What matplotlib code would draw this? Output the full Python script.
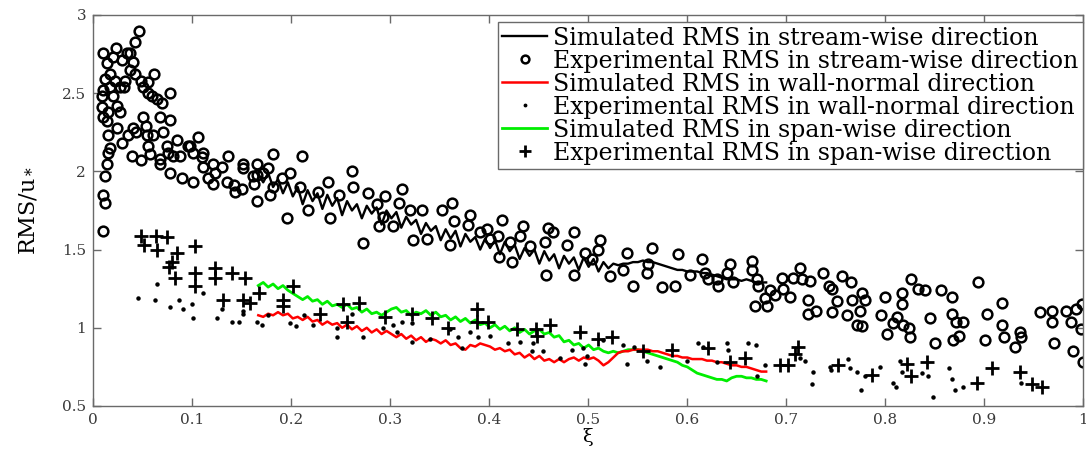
#!/usr/bin/env python3
"""RMS velocity fluctuations (normalised by u*) against xi: simulation vs experiment."""

import numpy as np
import matplotlib
matplotlib.use("Agg")
import matplotlib.pyplot as plt

plt.rcParams["font.family"] = ["DejaVu Serif"]
plt.rcParams["mathtext.fontset"] = "dejavuserif"

# Simulated RMS, stream-wise direction (xi from 0.167 to 0.68, evenly spaced)
rms_stream_sim = [
    1.98, 1.93, 1.99, 1.90, 1.95, 1.86, 1.93, 1.84, 1.90, 1.79,
    1.88, 1.81, 1.86, 1.76, 1.85, 1.78, 1.83, 1.72, 1.81, 1.75,
    1.79, 1.70, 1.78, 1.73, 1.77, 1.66, 1.75, 1.70, 1.74, 1.64,
    1.71, 1.66, 1.69, 1.60, 1.67, 1.62, 1.65, 1.56, 1.63, 1.57,
    1.62, 1.52, 1.60, 1.55, 1.58, 1.50, 1.57, 1.51, 1.56, 1.47,
    1.55, 1.49, 1.53, 1.44, 1.51, 1.46, 1.50, 1.41, 1.49, 1.43,
    1.47, 1.38, 1.46, 1.41, 1.45, 1.37, 1.45, 1.39, 1.44, 1.36,
    1.42, 1.38, 1.41, 1.40, 1.41, 1.41, 1.42, 1.42, 1.43, 1.42,
    1.42, 1.41, 1.40, 1.39, 1.38, 1.37, 1.37, 1.36, 1.36, 1.36,
    1.35, 1.35, 1.34, 1.33, 1.32, 1.31, 1.31, 1.31, 1.30, 1.31,
    1.30, 1.29, 1.29, 1.29,
]

# Simulated RMS, wall-normal direction
rms_normal_sim = [
    1.08, 1.07, 1.09, 1.08, 1.10, 1.08, 1.09, 1.06, 1.07, 1.05,
    1.07, 1.04, 1.05, 1.02, 1.04, 1.02, 1.03, 1.00, 1.02, 0.99,
    1.01, 0.98, 1.00, 0.97, 0.99, 0.96, 0.98, 0.96, 0.94, 0.96,
    0.93, 0.95, 0.92, 0.94, 0.91, 0.93, 0.92, 0.90, 0.92, 0.89,
    0.90, 0.87, 0.86, 0.89, 0.88, 0.90, 0.89, 0.88, 0.86, 0.87,
    0.85, 0.86, 0.83, 0.84, 0.81, 0.83, 0.80, 0.82, 0.79, 0.80,
    0.78, 0.80, 0.78, 0.80, 0.81, 0.79, 0.81, 0.80, 0.81, 0.79,
    0.76, 0.78, 0.81, 0.84, 0.85, 0.85, 0.86, 0.86, 0.86, 0.86,
    0.85, 0.85, 0.84, 0.83, 0.82, 0.82, 0.81, 0.81, 0.80, 0.80,
    0.80, 0.79, 0.79, 0.78, 0.78, 0.77, 0.76, 0.76, 0.75, 0.75,
    0.74, 0.73, 0.72, 0.72,
]

# Simulated RMS, span-wise direction
rms_span_sim = [
    1.27, 1.29, 1.26, 1.28, 1.25, 1.27, 1.24, 1.22, 1.20, 1.18,
    1.20, 1.17, 1.18, 1.15, 1.17, 1.14, 1.15, 1.13, 1.15, 1.12,
    1.13, 1.10, 1.12, 1.09, 1.10, 1.08, 1.10, 1.12, 1.13, 1.10,
    1.11, 1.08, 1.10, 1.09, 1.11, 1.08, 1.10, 1.07, 1.08, 1.05,
    1.07, 1.04, 1.06, 1.03, 1.05, 1.02, 1.03, 1.00, 1.02, 0.99,
    1.01, 0.98, 1.00, 0.97, 0.99, 0.96, 0.98, 0.99, 0.96, 0.97,
    0.94, 0.95, 0.91, 0.92, 0.89, 0.90, 0.87, 0.89, 0.86, 0.87,
    0.85, 0.84, 0.85, 0.84, 0.85, 0.86, 0.86, 0.86, 0.85, 0.84,
    0.83, 0.82, 0.81, 0.80, 0.79, 0.78, 0.76, 0.75, 0.73, 0.71,
    0.70, 0.69, 0.68, 0.67, 0.67, 0.66, 0.68, 0.69, 0.69, 0.68,
    0.68, 0.67, 0.67, 0.66,
]
XI_SIM_START, XI_SIM_END = 0.167, 0.68

# Experimental RMS, stream-wise direction
xi_stream_exp = [
    0.010, 0.014, 0.023, 0.020, 0.029, 0.034, 0.037, 0.047, 0.042, 0.040,
    0.037, 0.042, 0.062, 0.012, 0.017, 0.022, 0.032, 0.049, 0.056, 0.010,
    0.017, 0.027, 0.031, 0.051, 0.056, 0.060, 0.065, 0.070, 0.078, 0.009,
    0.020, 0.009, 0.024, 0.027, 0.015, 0.010, 0.014, 0.051, 0.054, 0.068,
    0.078, 0.015, 0.024, 0.035, 0.040, 0.043, 0.055, 0.061, 0.071, 0.029,
    0.017, 0.015, 0.056, 0.075, 0.085, 0.106, 0.039, 0.049, 0.058, 0.068,
    0.076, 0.081, 0.088, 0.096, 0.101, 0.111, 0.110, 0.121, 0.130, 0.136,
    0.014, 0.068, 0.078, 0.090, 0.101, 0.111, 0.116, 0.123, 0.121, 0.135,
    0.143, 0.152, 0.152, 0.151, 0.166, 0.166, 0.166, 0.177, 0.182, 0.179,
    0.191, 0.199, 0.012, 0.010, 0.012, 0.010, 0.098, 0.142, 0.162, 0.163,
    0.172, 0.182, 0.196, 0.211, 0.209, 0.217, 0.227, 0.239, 0.237, 0.262,
    0.263, 0.249, 0.273, 0.278, 0.287, 0.289, 0.295, 0.303, 0.309, 0.312,
    0.293, 0.320, 0.323, 0.332, 0.337, 0.353, 0.363, 0.361, 0.365, 0.381,
    0.379, 0.391, 0.398, 0.401, 0.409, 0.413, 0.410, 0.423, 0.434, 0.431,
    0.441, 0.457, 0.460, 0.458, 0.421, 0.465, 0.479, 0.486, 0.486, 0.512,
    0.510, 0.497, 0.504, 0.522, 0.539, 0.535, 0.545, 0.561, 0.560, 0.565,
    0.575, 0.591, 0.588, 0.603, 0.615, 0.618, 0.621, 0.630, 0.631, 0.643,
    0.640, 0.646, 0.666, 0.666, 0.671, 0.672, 0.684, 0.689, 0.679, 0.669,
    0.681, 0.696, 0.697, 0.704, 0.707, 0.714, 0.716, 0.724, 0.722, 0.722,
    0.730, 0.737, 0.743, 0.747, 0.752, 0.747, 0.757, 0.766, 0.762, 0.767,
    0.777, 0.780, 0.775, 0.772, 0.777, 0.800, 0.796, 0.802, 0.812, 0.808,
    0.817, 0.817, 0.818, 0.824, 0.825, 0.826, 0.833, 0.840, 0.845, 0.851,
    0.857, 0.868, 0.868, 0.872, 0.879, 0.869, 0.875, 0.894, 0.903, 0.901,
    0.918, 0.918, 0.920, 0.936, 0.937, 0.931, 0.957, 0.969, 0.969, 0.971,
    0.983, 0.993, 0.999, 0.988, 0.998, 0.990, 1.000,
]
rms_stream_exp = [
    2.76, 2.69, 2.79, 2.73, 2.71, 2.76, 2.76, 2.90, 2.83, 2.70,
    2.65, 2.62, 2.62, 2.59, 2.62, 2.58, 2.58, 2.58, 2.57, 2.52,
    2.54, 2.54, 2.54, 2.54, 2.50, 2.48, 2.46, 2.44, 2.50, 2.48,
    2.48, 2.41, 2.42, 2.38, 2.38, 2.35, 2.32, 2.35, 2.29, 2.35,
    2.33, 2.23, 2.28, 2.23, 2.28, 2.25, 2.23, 2.23, 2.25, 2.18,
    2.15, 2.12, 2.16, 2.16, 2.20, 2.22, 2.10, 2.07, 2.11, 2.08,
    2.12, 2.10, 2.10, 2.16, 2.12, 2.12, 2.09, 2.05, 2.03, 2.10,
    2.05, 2.05, 1.99, 1.96, 1.93, 2.03, 1.96, 1.99, 1.92, 1.93,
    1.87, 2.05, 2.02, 1.89, 2.05, 1.98, 1.81, 2.02, 2.11, 1.85,
    1.96, 1.99, 1.97, 1.85, 1.80, 1.62, 2.16, 1.91, 1.97, 1.92,
    1.99, 1.90, 1.70, 2.10, 1.90, 1.75, 1.87, 1.70, 1.93, 2.00,
    1.90, 1.85, 1.54, 1.86, 1.79, 1.65, 1.84, 1.65, 1.80, 1.89,
    1.71, 1.75, 1.56, 1.75, 1.57, 1.75, 1.80, 1.53, 1.68, 1.72,
    1.66, 1.61, 1.63, 1.57, 1.59, 1.69, 1.45, 1.42, 1.65, 1.59,
    1.52, 1.55, 1.64, 1.34, 1.55, 1.61, 1.53, 1.61, 1.34, 1.56,
    1.50, 1.48, 1.44, 1.33, 1.48, 1.37, 1.27, 1.41, 1.35, 1.51,
    1.26, 1.47, 1.27, 1.34, 1.44, 1.35, 1.31, 1.31, 1.27, 1.41,
    1.35, 1.29, 1.43, 1.37, 1.31, 1.27, 1.24, 1.21, 1.19, 1.14,
    1.14, 1.32, 1.25, 1.20, 1.32, 1.38, 1.31, 1.30, 1.18, 1.09,
    1.11, 1.35, 1.27, 1.25, 1.17, 1.10, 1.33, 1.29, 1.08, 1.18,
    1.22, 1.18, 1.11, 1.02, 1.01, 1.20, 1.08, 0.96, 1.07, 1.03,
    1.22, 1.15, 1.02, 1.00, 0.94, 1.31, 1.25, 1.24, 1.06, 0.90,
    1.24, 1.20, 1.09, 1.04, 1.04, 0.92, 0.95, 1.29, 1.09, 0.92,
    1.16, 1.02, 0.94, 0.97, 0.94, 0.88, 1.10, 1.11, 1.04, 0.90,
    1.11, 1.12, 1.15, 1.04, 0.99, 0.85, 0.78,
]

# Experimental RMS, wall-normal direction
xi_normal_exp = [
    0.045, 0.063, 0.065, 0.078, 0.087, 0.091, 0.100, 0.101, 0.111, 0.125,
    0.130, 0.140, 0.148, 0.152, 0.152, 0.166, 0.171, 0.177, 0.199, 0.205,
    0.213, 0.222, 0.246, 0.247, 0.262, 0.273, 0.293, 0.303, 0.312, 0.322,
    0.307, 0.322, 0.340, 0.361, 0.369, 0.373, 0.381, 0.389, 0.401, 0.419,
    0.431, 0.444, 0.443, 0.455, 0.472, 0.484, 0.495, 0.499, 0.515, 0.535,
    0.539, 0.547, 0.497, 0.560, 0.573, 0.611, 0.616, 0.600, 0.630, 0.640,
    0.641, 0.662, 0.671, 0.679, 0.670, 0.714, 0.719, 0.727, 0.726, 0.744,
    0.745, 0.763, 0.765, 0.772, 0.776, 0.780, 0.795, 0.808, 0.811, 0.815,
    0.817, 0.837, 0.843, 0.849, 0.865, 0.868, 0.871, 0.879, 0.937,
]
rms_normal_exp = [
    1.19, 1.18, 1.28, 1.13, 1.18, 1.12, 1.15, 1.06, 1.22, 1.06,
    1.12, 1.04, 1.04, 1.11, 1.09, 1.04, 1.02, 1.08, 1.03, 1.01,
    1.08, 1.02, 1.00, 0.94, 1.09, 0.94, 1.00, 1.02, 1.04, 1.03,
    0.97, 0.91, 0.93, 0.99, 0.94, 0.87, 0.97, 0.94, 0.95, 0.90,
    0.91, 0.90, 0.85, 0.85, 0.81, 0.86, 0.87, 0.82, 0.92, 0.89,
    0.77, 0.88, 0.77, 0.79, 0.75, 0.90, 0.88, 0.79, 0.78, 0.90,
    0.86, 0.90, 0.69, 0.76, 0.89, 0.81, 0.79, 0.72, 0.64, 0.75,
    0.73, 0.80, 0.74, 0.72, 0.60, 0.69, 0.75, 0.65, 0.62, 0.79,
    0.72, 0.71, 0.69, 0.56, 0.74, 0.67, 0.60, 0.62, 0.65,
]

# Experimental RMS, span-wise direction
xi_span_exp = [
    0.049, 0.064, 0.075, 0.052, 0.065, 0.085, 0.080, 0.077, 0.083, 0.103,
    0.103, 0.103, 0.123, 0.123, 0.140, 0.154, 0.131, 0.152, 0.159, 0.168,
    0.202, 0.192, 0.192, 0.229, 0.253, 0.269, 0.257, 0.295, 0.322, 0.342,
    0.359, 0.388, 0.388, 0.399, 0.428, 0.448, 0.449, 0.462, 0.492, 0.510,
    0.524, 0.556, 0.585, 0.621, 0.643, 0.659, 0.712, 0.709, 0.694, 0.702,
    0.753, 0.787, 0.822, 0.826, 0.842, 0.893, 0.908, 0.936, 0.949, 0.959,
]
rms_span_exp = [
    1.59, 1.59, 1.58, 1.53, 1.50, 1.48, 1.42, 1.39, 1.32, 1.52,
    1.35, 1.27, 1.38, 1.32, 1.35, 1.32, 1.18, 1.18, 1.16, 1.22,
    1.27, 1.18, 1.14, 1.09, 1.15, 1.16, 1.04, 1.07, 1.09, 1.06,
    1.00, 1.12, 1.04, 1.04, 0.99, 0.99, 0.95, 1.02, 0.97, 0.93,
    0.94, 0.85, 0.86, 0.87, 0.78, 0.81, 0.88, 0.83, 0.76, 0.76,
    0.76, 0.70, 0.77, 0.69, 0.78, 0.65, 0.74, 0.72, 0.64, 0.62,
]

x_ticks = [0, 0.1, 0.2, 0.3, 0.4, 0.5, 0.6, 0.7, 0.8, 0.9, 1]
x_tick_labels = ["0", "0.1", "0.2", "0.3", "0.4", "0.5", "0.6", "0.7", "0.8", "0.9", "1"]
y_ticks = [0.5, 1, 1.5, 2, 2.5, 3]
y_tick_labels = ["0.5", "1", "1.5", "2", "2.5", "3"]

AXIS_GREY = "#6a6a6a"


def main():
    fig = plt.figure(figsize=(10.86, 4.5), dpi=100)
    ax = fig.add_axes([0.0856, 0.0978, 0.9116, 0.8689])

    def sim_xi(values):
        return np.linspace(XI_SIM_START, XI_SIM_END, len(values))

    ax.plot(sim_xi(rms_stream_sim), rms_stream_sim, color="black", lw=1.7,
            label="Simulated RMS in stream-wise direction", zorder=3)
    ax.plot(xi_stream_exp, rms_stream_exp, linestyle="none", marker="o",
            markersize=7, markerfacecolor="none", markeredgecolor="black",
            markeredgewidth=1.8,
            label="Experimental RMS in stream-wise direction", zorder=2)
    ax.plot(sim_xi(rms_normal_sim), rms_normal_sim, color="#ff0000", lw=1.8,
            label="Simulated RMS in wall-normal direction", zorder=4)
    ax.plot(xi_normal_exp, rms_normal_exp, linestyle="none", marker="o",
            markersize=2.2, color="black",
            label="Experimental RMS in wall-normal direction", zorder=5)
    ax.plot(sim_xi(rms_span_sim), rms_span_sim, color="#00ee00", lw=2.0,
            label="Simulated RMS in span-wise direction", zorder=3)
    ax.plot(xi_span_exp, rms_span_exp, linestyle="none", marker="+",
            markersize=10, markeredgewidth=2.0, color="black",
            label="Experimental RMS in span-wise direction", zorder=5)

    ax.set_xlim(0, 1)
    ax.set_ylim(0.5, 3)
    ax.set_xticks(x_ticks)
    ax.set_xticklabels(x_tick_labels)
    ax.set_yticks(y_ticks)
    ax.set_yticklabels(y_tick_labels)

    ax.tick_params(direction="in", length=6, width=1, colors=AXIS_GREY,
                   labelcolor="#3a3a3a", labelsize=11,
                   top=True, right=True, pad=5)
    for spine in ax.spines.values():
        spine.set_color(AXIS_GREY)
        spine.set_linewidth(1.0)

    ax.set_xlabel("ξ", fontsize=14, labelpad=1)
    ax.set_ylabel(r"RMS/u$_*$", fontsize=16, labelpad=16)

    leg = ax.legend(loc="upper right", bbox_to_anchor=(1.0, 0.982),
                    borderaxespad=0.0, fontsize=17, frameon=True,
                    fancybox=False, framealpha=1.0, edgecolor=AXIS_GREY,
                    handlelength=1.9, handletextpad=0.25, labelspacing=0.0,
                    borderpad=0.2, markerscale=0.8)
    leg.get_frame().set_linewidth(1.0)

    fig.savefig("out.png", dpi=100)


if __name__ == "__main__":
    main()
